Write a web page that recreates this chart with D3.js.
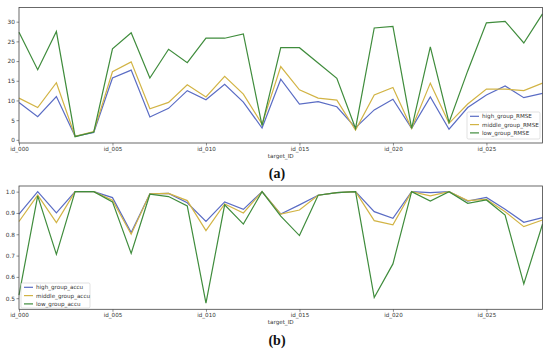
<!DOCTYPE html>
<html>
<head>
<meta charset="utf-8">
<script src="https://cdn.jsdelivr.net/npm/d3@7"></script>
<style>
html,body{margin:0;padding:0;background:#fff;}
svg{display:block;}
</style>
</head>
<body>
<script>
const ids = d3.range(29).map(i => "id_" + String(i).padStart(3, "0"));
const tickIdx = [0, 5, 10, 15, 20, 25];

const highRMSE = [9.5,5.9,11.0,0.9,1.9,15.7,17.7,5.8,8.0,12.5,10.2,14.1,9.6,3.0,15.4,9.1,9.7,8.4,3.1,7.6,10.3,2.9,10.9,2.7,8.2,11.4,13.7,10.7,11.8];
const middleRMSE = [10.6,8.2,14.5,0.9,2.1,17.3,19.8,7.9,9.5,14.0,10.9,16.1,11.6,4.0,18.6,12.7,10.6,10.1,2.5,11.4,13.3,2.9,14.4,4.2,9.1,12.9,12.9,12.5,14.4];
const lowRMSE = [27.3,17.8,27.5,0.8,2.0,23.1,27.2,15.7,23.0,19.6,25.8,25.8,26.9,3.6,23.4,23.4,19.5,15.6,2.9,28.4,28.8,2.9,23.6,4.4,17.5,29.7,30.1,24.6,32.0];

const highAccu = [0.895,1.0,0.90,1.0,1.0,0.972,0.808,0.99,0.992,0.948,0.86,0.952,0.917,1.0,0.895,0.938,0.983,0.995,1.0,0.906,0.875,1.0,0.995,1.0,0.956,0.973,0.917,0.856,0.878];
const middleAccu = [0.86,0.984,0.855,1.0,1.0,0.96,0.80,0.99,0.992,0.958,0.817,0.942,0.90,1.0,0.895,0.914,0.983,0.995,1.0,0.864,0.844,1.0,0.98,1.0,0.958,0.964,0.906,0.836,0.867];
const lowAccu = [0.515,0.98,0.706,1.0,1.0,0.952,0.71,0.988,0.977,0.933,0.477,0.938,0.848,1.0,0.885,0.794,0.983,0.995,1.0,0.503,0.661,1.0,0.956,1.0,0.945,0.961,0.89,0.567,0.847];

const rmseTicks = [0,5,10,15,20,25,30];
const accuTicks = [0.5,0.6,0.7,0.8,0.9,1.0];

const colors = {high:"#5a6cc4", middle:"#d2b445", low:"#3f8c3c"};
const W = 550, H = 352;
const svg = d3.select("body").append("svg").attr("width", W).attr("height", H);
svg.append("rect").attr("width", W).attr("height", H).attr("fill", "#fff");
const font = "DejaVu Sans, sans-serif";

function panel(opts) {
  const {top, bottom, left, right, ydom, yticks, yfmt, series, legend, label, labelY} = opts;
  const x = d3.scaleLinear().domain([0, 28]).range([left, right]);
  const y = d3.scaleLinear().domain(ydom).range([bottom, top]);
  const g = svg.append("g");
  const line = d3.line().x((d, i) => x(i)).y(d => y(d));
  series.forEach(s => {
    g.append("path").datum(s.values).attr("d", line)
      .attr("fill", "none").attr("stroke", s.color).attr("stroke-width", 1.2)
      .attr("stroke-linejoin", "miter");
  });
  g.append("rect").attr("x", left).attr("y", top).attr("width", right - left).attr("height", bottom - top)
    .attr("fill", "none").attr("stroke", "#444").attr("stroke-width", 0.8);
  const xa = g.append("g").attr("transform", `translate(0,${bottom})`)
    .call(d3.axisBottom(x).tickValues(tickIdx).tickFormat(i => ids[i]).tickSize(2.5).tickPadding(1.5));
  xa.select(".domain").remove();
  xa.selectAll("line").attr("stroke", "#444").attr("stroke-width", 0.6);
  xa.selectAll("text").attr("font-family", font).attr("font-size", 5.6).attr("fill", "#333");
  const ya = g.append("g").attr("transform", `translate(${left},0)`)
    .call(d3.axisLeft(y).tickValues(yticks).tickFormat(yfmt).tickSize(2.5).tickPadding(1.5));
  ya.select(".domain").remove();
  ya.selectAll("line").attr("stroke", "#444").attr("stroke-width", 0.6);
  ya.selectAll("text").attr("font-family", font).attr("font-size", 5.8).attr("fill", "#333");
  g.append("text").attr("x", (left + right) / 2).attr("y", bottom + 14.5)
    .attr("text-anchor", "middle").attr("font-family", font).attr("font-size", 5.6).attr("fill", "#333")
    .text("target_ID");
  // legend
  const lg = g.append("g");
  lg.append("rect").attr("x", legend.x).attr("y", legend.y).attr("width", legend.w).attr("height", legend.h)
    .attr("rx", 1.5).attr("fill", "#fff").attr("fill-opacity", 0.8).attr("stroke", "#ccc").attr("stroke-width", 0.6);
  series.forEach((s, i) => {
    const yy = legend.y + 4.3 + i * 8.3;
    lg.append("line").attr("x1", legend.x + 3).attr("x2", legend.x + 12).attr("y1", yy).attr("y2", yy)
      .attr("stroke", s.color).attr("stroke-width", 1.2);
    lg.append("text").attr("x", legend.x + 15).attr("y", yy + 2).attr("font-family", font)
      .attr("font-size", 5.6).attr("fill", "#333").text(s.name);
  });
  svg.append("text").attr("x", 277).attr("y", labelY).attr("text-anchor", "middle")
    .attr("font-family", "Liberation Serif, DejaVu Serif, serif").attr("font-weight", "bold")
    .attr("font-size", 14).attr("fill", "#111").text(label);
}

panel({
  top: 7.5, bottom: 143, left: 19, right: 542.5,
  ydom: [-0.8, 33.6], yticks: rmseTicks, yfmt: d3.format("d"),
  series: [
    {name: "high_group_RMSE", values: highRMSE, color: colors.high},
    {name: "middle_group_RMSE", values: middleRMSE, color: colors.middle},
    {name: "low_group_RMSE", values: lowRMSE, color: colors.low}
  ],
  legend: {x: 467, y: 112, w: 73, h: 27},
  label: "(a)", labelY: 178
});

panel({
  top: 186, bottom: 309.3, left: 19, right: 542.5,
  ydom: [0.448, 1.0265], yticks: accuTicks, yfmt: d3.format(".1f"),
  series: [
    {name: "high_group_accu", values: highAccu, color: colors.high},
    {name: "middle_group_accu", values: middleAccu, color: colors.middle},
    {name: "low_group_accu", values: lowAccu, color: colors.low}
  ],
  legend: {x: 21, y: 283, w: 69, h: 25},
  label: "(b)", labelY: 345
});
</script>
</body>
</html>
